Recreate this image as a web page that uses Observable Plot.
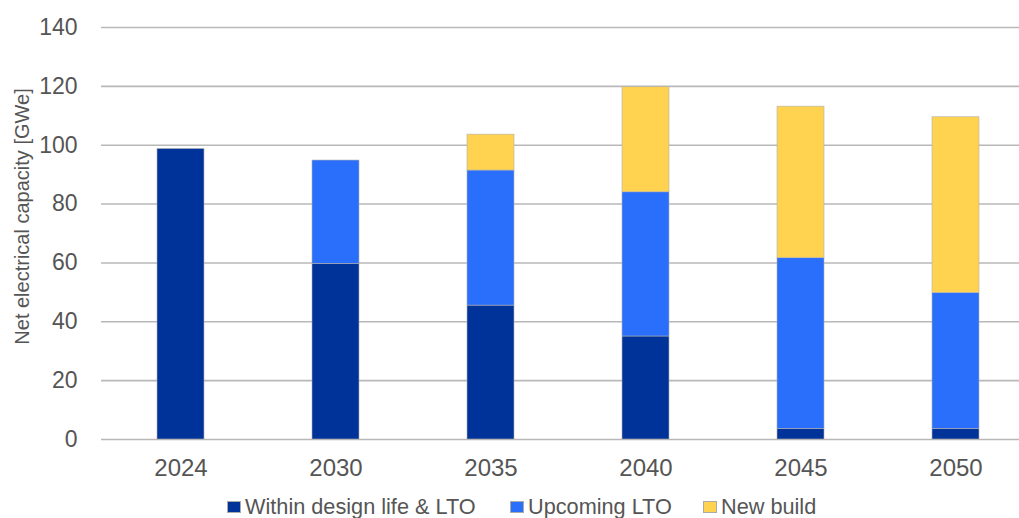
<!DOCTYPE html>
<html>
<head>
<meta charset="utf-8">
<script src="https://cdn.jsdelivr.net/npm/d3@7"></script>
<script src="https://cdn.jsdelivr.net/npm/@observablehq/plot@0.6"></script>
<style>
  html, body { margin: 0; padding: 0; background: #fff; }
  #wrap { position: relative; width: 1019px; height: 518px; overflow: hidden; font-family: "Liberation Sans", Arial, sans-serif; }
  #legend { position: absolute; top: 494px; left: 0; width: 1019px; height: 24px; color: #555; font-size: 21.7px; }
  .item { position: absolute; top: 0; display: flex; align-items: center; white-space: nowrap; }
  .sw { width: 14px; height: 12px; margin-right: 4px; box-sizing: border-box; border: 0.5px solid #aaa; }
</style>
</head>
<body>
<div id="wrap"><div id="chart"></div><div id="legend"></div></div>
<script>
const years = ["2024", "2030", "2035", "2040", "2045", "2050"];
const series = ["Within design life & LTO", "Upcoming LTO", "New build"];
const withinDesign = [98.7, 59.7, 45.5, 35.0, 3.6, 3.6];
const upcomingLTO = [0, 35.1, 45.9, 49.0, 58.0, 46.2];
const newBuild = [0, 0, 12.2, 35.7, 51.5, 59.7];
const colors = ["#003399", "#2a6efc", "#ffd34f"];
const yTicks = [0, 20, 40, 60, 80, 100, 120, 140];
const legendLeft = [227, 510, 703];

const valuesBySeries = [withinDesign, upcomingLTO, newBuild];
const data = [];
series.forEach((s, si) => years.forEach((y, yi) => data.push({year: y, series: s, value: valuesBySeries[si][yi]})));

const chart = Plot.plot({
  width: 1019,
  height: 492,
  marginTop: 27,
  marginBottom: 53,
  marginLeft: 101,
  marginRight: 0,
  style: {fontFamily: '"Liberation Sans", Arial, sans-serif', color: "#555", background: "#fff"},
  x: {domain: years, range: [101, 1034], paddingInner: 0.7, paddingOuter: 0.35, label: null},
  y: {domain: [0, 140], label: null},
  color: {domain: series, range: colors},
  marks: [
    Plot.ruleY(yTicks, {stroke: "#b8b8b8", strokeWidth: 1.6}),
    Plot.ruleX([0], {x: () => 101, y1: 0, y2: 140, stroke: "#b8b8b8", strokeWidth: 1.6}),
    Plot.barY(data, {x: "year", y: "value", fill: "series", stroke: "#b0b0b0", strokeWidth: 0.6, order: series}),
    Plot.axisY({ticks: yTicks, tickSize: 0, tickPadding: 24, fontSize: 23, fill: "#555"}),
    Plot.axisX({tickSize: 0, tickPadding: 19, fontSize: 24, fill: "#555"}),
    Plot.text(["Net electrical capacity [GWe]"], {frameAnchor: "left", textAnchor: "middle", dx: -79, dy: -17, rotate: -90, fontSize: 20, fill: "#555", text: d => d})
  ]
});
document.getElementById("chart").appendChild(chart);

const legend = document.getElementById("legend");
series.forEach((s, i) => {
  const it = document.createElement("div");
  it.className = "item";
  it.style.left = legendLeft[i] + "px";
  const sw = document.createElement("span");
  sw.className = "sw";
  sw.style.background = colors[i];
  const tx = document.createElement("span");
  tx.textContent = s;
  it.appendChild(sw);
  it.appendChild(tx);
  legend.appendChild(it);
});
</script>
</body>
</html>
